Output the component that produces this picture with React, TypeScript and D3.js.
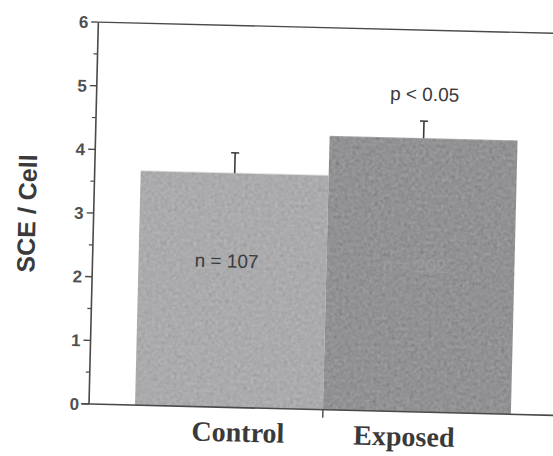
import React from 'react';
import * as d3 from 'd3';

const categories = ['Control', 'Exposed'];
const means = [3.68, 4.3];
const errors = [0.32, 0.27];
const sampleSizes = ['n = 107', 'n = 202'];
const yTicks = [0, 1, 2, 3, 4, 5, 6];
const minorTicks = [0.5, 1.5, 2.5, 3.5, 4.5, 5.5];
const barColors = ['#a3a3a7', '#78787c'];
const nColors = ['#3c3c3c', '#9c9ca0'];

const width = 553;
const height = 456;
// origin of the axes, before the scan tilt is applied
const x0 = 89;
const y0 = 404;
const tilt = 1.4;

export default function App() {
  const y = d3.scaleLinear().domain([0, 6]).range([y0, 22]);
  const x = d3.scaleBand().domain(categories).range([135, 511]).paddingInner(0);
  const bw = x.bandwidth();
  const divider = x('Exposed');
  const axisColor = '#4a4a4a';

  return (
    <svg width={width} height={height} style={{ position: 'absolute', left: 0, top: 0, background: '#fff' }}>
      <defs>
        <filter id="grain" x="0" y="0" width="100%" height="100%">
          <feTurbulence type="fractalNoise" baseFrequency="0.3" numOctaves="3" seed="7" result="noise" />
          <feColorMatrix in="noise" type="matrix"
            values="0.33 0.33 0.33 0 0  0.33 0.33 0.33 0 0  0.33 0.33 0.33 0 0  0 0 0 0 0.32" result="gray" />
          <feComposite in="gray" in2="SourceGraphic" operator="in" result="clip" />
          <feMerge>
            <feMergeNode in="SourceGraphic" />
            <feMergeNode in="clip" />
          </feMerge>
        </filter>
      </defs>
      <g transform={`rotate(${tilt}, ${x0}, ${y0})`}>
        {/* bars */}
        {categories.map((c, i) => (
          <rect key={c} x={x(c)} y={y(means[i])} width={bw} height={y0 - y(means[i])}
            fill={barColors[i]} filter="url(#grain)" />
        ))}
        {/* error bars, upper half only */}
        {categories.map((c, i) => {
          const cx = x(c) + bw / 2;
          return (
            <g key={c} stroke="#3a3a3a" strokeWidth={1.6}>
              <line x1={cx} x2={cx} y1={y(means[i])} y2={y(means[i] + errors[i])} />
              <line x1={cx - 4} x2={cx + 4} y1={y(means[i] + errors[i])} y2={y(means[i] + errors[i])} />
            </g>
          );
        })}
        {/* frame */}
        <line x1={x0} x2={x0} y1={y0} y2={y(6)} stroke={axisColor} strokeWidth={1.6} />
        <line x1={x0 - 8} x2={600} y1={y0} y2={y0} stroke={axisColor} strokeWidth={1.6} />
        <line x1={x0} x2={600} y1={y(6)} y2={y(6)} stroke={axisColor} strokeWidth={1.4} />
        <line x1={divider} x2={divider} y1={y0} y2={y0 + 8} stroke={axisColor} strokeWidth={1.4} />
        {yTicks.map(t => (
          <g key={t}>
            <line x1={x0 - 7} x2={x0} y1={y(t)} y2={y(t)} stroke={axisColor} strokeWidth={1.4} />
            <text x={x0 - 10} y={y(t)} dy="0.36em" textAnchor="end" fontFamily="Liberation Sans, Arial, sans-serif"
              fontSize={17} fontWeight="bold" fill="#505050">{t}</text>
          </g>
        ))}
        {minorTicks.map(t => (
          <line key={t} x1={x0 - 4} x2={x0} y1={y(t)} y2={y(t)} stroke={axisColor} strokeWidth={1.2} />
        ))}
        {/* axis title */}
        <text transform={`translate(31, ${(y0 + y(6)) / 2 + 2}) rotate(-90)`} textAnchor="middle"
          fontFamily="Liberation Sans, Arial, sans-serif" fontWeight="bold" fontSize={25} fill="#3a3a3a">
          SCE / Cell
        </text>
        {/* category labels */}
        <text x={divider - 38} y={438} textAnchor="end" fontFamily="Liberation Serif, Times New Roman, serif"
          fontWeight="bold" fontSize={28} fill="#3a3a3a">{categories[0]}</text>
        <text x={divider + 31} y={438} textAnchor="start" fontFamily="Liberation Serif, Times New Roman, serif"
          fontWeight="bold" fontSize={28} fill="#3a3a3a">{categories[1]}</text>
        {/* sample sizes */}
        {categories.map((c, i) => (
          <text key={c} x={x(c) + bw / 2 - 6} y={y(2.3)} dy="0.35em" textAnchor="middle"
            fontFamily="Liberation Sans, Arial, sans-serif" fontSize={19} fill={nColors[i]}>
            {sampleSizes[i]}
          </text>
        ))}
        {/* significance */}
        <text x={x('Exposed') + bw / 2} y={y(means[1] + errors[1]) - 27} dy="0.35em" textAnchor="middle"
          fontFamily="Liberation Sans, Arial, sans-serif" fontSize={19} fill="#3a3a3a">
          p &lt; 0.05
        </text>
      </g>
    </svg>
  );
}
